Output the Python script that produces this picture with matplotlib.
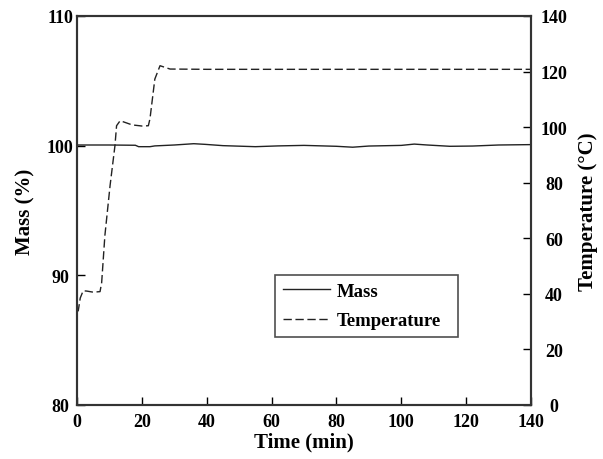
import numpy as np
import matplotlib
matplotlib.use("Agg")
import matplotlib.pyplot as plt

plt.rcParams['font.family'] = ['Liberation Serif', 'DejaVu Serif']
plt.rcParams['font.weight'] = 'bold'

# Temperatura (°C) ao longo do tempo (min)
temp_time = [0, 0.4, 1.0, 1.9, 3.0, 5.0, 7.1, 7.6, 8.6, 10.2, 11.7, 12.2, 13.3, 14.8, 17.0, 20.0, 22.0, 22.5, 24.0, 25.6, 28.7, 40.0, 80.0, 140.0]
temp_vals = [33.5, 34.0, 38.5, 41.1, 41.0, 40.6, 40.8, 44.0, 61.0, 79.0, 93.3, 100.5, 102.3, 101.7, 100.8, 100.4, 100.5, 103.0, 117.3, 122.1, 120.9, 120.8, 120.8, 120.8]

# Massa (%) ao longo do tempo (min)
mass_time = [0, 10, 18, 19, 22.5, 24, 30, 36, 39.5, 45, 55, 62, 70, 80, 85, 90, 100, 104, 108, 115, 122, 130, 140]
mass_vals = [100.05, 100.05, 100.03, 99.92, 99.92, 99.98, 100.05, 100.15, 100.1, 100.0, 99.92, 99.98, 100.02, 99.95, 99.88, 99.97, 100.02, 100.12, 100.05, 99.95, 99.97, 100.05, 100.08]

fig = plt.figure(figsize=(6.03, 4.6), dpi=100)
ax = fig.add_axes([0.1277, 0.1174, 0.7529, 0.8457])
ax2 = ax.twinx()

l1, = ax.plot(mass_time, mass_vals, color='#222222', lw=1.0, label='Mass')
l2, = ax2.plot(temp_time, temp_vals, color='#222222', lw=1.0, ls=(0, (6, 2.6)), label='Temperature')

ax.set_xlim(0, 140)
ax.set_ylim(80, 110)
ax2.set_ylim(0, 140)
ax.set_xticks(np.arange(0, 141, 20))
ax.set_yticks([80, 90, 100, 110])
ax2.set_yticks(np.arange(0, 141, 20))

for a in (ax, ax2):
    a.tick_params(direction='in', length=6, width=1.0, labelsize=13)
    for s in a.spines.values():
        s.set_linewidth(1.5)
        s.set_color('#333333')

ax.tick_params(axis='x', pad=6)
ax.tick_params(axis='y', pad=12)
ax2.tick_params(axis='y', pad=16.5)
for t in ax.get_yticklabels():
    t.set_horizontalalignment('center')
for t in ax2.get_yticklabels():
    t.set_horizontalalignment('center')

ax.set_xlabel('Time (min)', fontsize=15, fontweight='bold', labelpad=1)
ax.set_ylabel('Mass (%)', fontsize=15, fontweight='bold', labelpad=8)
ax2.set_ylabel('Temperature (°C)', fontsize=15, fontweight='bold', labelpad=8)

leg = ax.legend([l1, l2], ['Mass', 'Temperature'], loc='center',
                bbox_to_anchor=(0.416, 0.167, 0.443, 0.175), mode='expand',
                fancybox=False, edgecolor='#222222', fontsize=13.5, handlelength=2.5,
                labelspacing=0.65, borderpad=0.4, handletextpad=0.37)
leg.get_frame().set_linewidth(1.2)
ax.set_zorder(ax2.get_zorder() + 1)
ax.patch.set_visible(False)

plt.savefig('out.png', dpi=100)
